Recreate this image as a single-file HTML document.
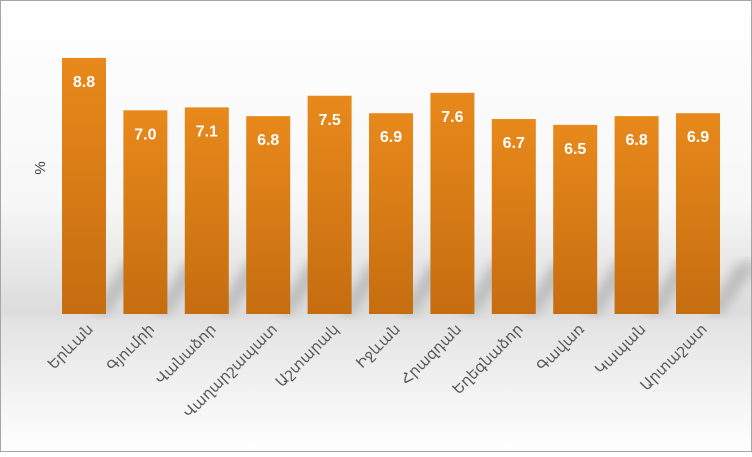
<!DOCTYPE html><html><head><style>body{margin:0}</style></head><body>
<svg width="752" height="452" xmlns="http://www.w3.org/2000/svg">
<defs>
<linearGradient id="bg" x1="0" y1="0" x2="0" y2="1">
<stop offset="0" stop-color="#ffffff"/><stop offset="0.45" stop-color="#f7f7f7"/><stop offset="0.69" stop-color="#dcdcdc"/><stop offset="0.72" stop-color="#e4e4e4"/><stop offset="1" stop-color="#ffffff"/></linearGradient>
<linearGradient id="bar" x1="0" y1="0" x2="0" y2="1"><stop offset="0" stop-color="#e8891b"/><stop offset="1" stop-color="#c56d10"/></linearGradient>
<filter id="bl"><feGaussianBlur stdDeviation="6"/></filter>
</defs>
<rect x="0.5" y="0.5" width="751" height="451" fill="url(#bg)" stroke="#a6a6a6"/>
<g fill="#7a7a7a" opacity="0.4" filter="url(#bl)" id="sh"></g>
<g id="bars"></g>
<text x="45" y="168" transform="rotate(-90 45 168)" font-family="Liberation Sans,sans-serif" font-size="15" fill="#404040" text-anchor="middle">%</text>
<script>
var v=[8.8,7.0,7.1,6.8,7.5,6.9,7.6,6.7,6.5,6.8,6.9];
var n=["Երևան","Գյումրի","Վանաձոր","Վաղարշապատ","Աշտարակ","Իջևան","Հրազդան","Եղեգնաձոր","Գավառ","Կապան","Արտաշատ"];
var ns="http://www.w3.org/2000/svg",b=document.getElementById("bars"),s=document.getElementById("sh");
function el(t,a,p,tx){var e=document.createElementNS(ns,t);for(var k in a)e.setAttribute(k,a[k]);if(tx)e.textContent=tx;p.appendChild(e);return e;}
for(var i=0;i<11;i++){var c=84+61.4*i,h=v[i]*29.1,t=314-h;
el("polygon",{points:(c+10)+",314 "+(c+22)+",314 "+(c+62)+",262 "+(c+40)+",262"},s);
el("rect",{x:c-22,y:t,width:44,height:h,fill:"url(#bar)"},b);
el("text",{x:c,y:t+29,"text-anchor":"middle","font-family":"Liberation Sans,sans-serif","font-weight":"bold","font-size":"16",fill:"#fff"},b,v[i].toFixed(1));
el("text",{x:c+10,y:330,"text-anchor":"end","font-family":"DejaVu Sans,sans-serif","font-size":"15",fill:"#595959",transform:"rotate(-45 "+(c+10)+" 330)"},b,n[i]);}
</script>
</svg></body></html>
